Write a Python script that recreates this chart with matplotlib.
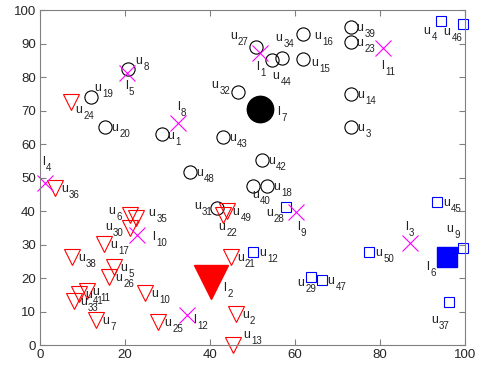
import matplotlib
matplotlib.use('Agg')
import matplotlib.pyplot as plt

plt.rcParams['font.family'] = ['Liberation Sans', 'DejaVu Sans']

# users served by l7 (black circles)
circ_ids = [8, 19, 20, 1, 27, 44, 34, 16, 15, 32, 43, 42, 48, 39, 23, 14, 3, 40, 18, 31]
circ_x = [20.8, 11.9, 15.2, 28.6, 50.8, 54.5, 56.9, 62.0, 62.0, 46.7,
          43.1, 52.2, 35.3, 73.1, 73.1, 73.3, 73.3, 50.2, 53.5, 41.7]
circ_y = [82.5, 74.2, 65.2, 63.0, 89.1, 85.1, 85.7, 92.9, 85.4, 75.7,
          62.2, 55.3, 51.8, 95.1, 90.6, 74.9, 65.2, 47.5, 47.5, 41.0]

# users served by l2 (red triangles)
tri_ids = [24, 36, 6, 35, 30, 17, 38, 5, 26, 10, 11, 41, 33, 7, 25, 49, 22, 21, 2, 13]
tri_x = [7.4, 3.5, 21.3, 22.5, 21.2, 15.1, 7.5, 17.5, 16.3, 24.7,
         11.0, 9.2, 8.0, 13.2, 27.8, 43.9, 43.0, 44.9, 46.1, 45.5]
tri_y = [72.5, 47.0, 39.0, 37.9, 34.9, 30.1, 26.3, 23.4, 20.4, 15.6,
         16.1, 15.2, 13.2, 7.5, 7.0, 40.1, 38.8, 26.2, 9.3, 0.0]

# users served by l6 (blue squares)
sq_ids = [4, 46, 28, 12, 29, 47, 45, 9, 50, 37]
sq_x = [94.3, 99.5, 57.9, 50.2, 63.9, 66.3, 93.5, 99.6, 77.5, 96.3]
sq_y = [96.9, 95.9, 41.1, 27.7, 20.2, 19.4, 42.8, 28.9, 27.9, 12.8]

# candidate locations (magenta crosses)
cross_ids = [1, 3, 4, 5, 8, 9, 10, 11, 12]
cross_x = [51.8, 87.1, 1.2, 20.4, 32.4, 60.2, 22.8, 80.8, 34.7]
cross_y = [87.3, 30.6, 48.3, 81.2, 66.3, 39.8, 32.9, 88.8, 9.0]

# chosen locations
l7_xy = (51.8, 70.4)
l2_xy = (40.3, 19.0)
l6_xy = (95.7, 26.4)

# label offsets in pixels (default is right of marker)
u_offsets = {8: (7, 5), 19: (4, 6), 24: (4, -11), 20: (7, -4), 1: (6, -5),
             27: (-26, 8), 34: (-6, 17), 44: (1, -19), 16: (11, -5), 15: (8, -7),
             32: (-27, 4), 4: (-17, -13), 46: (-19, -11), 6: (-22, 1), 35: (13, 2),
             30: (-25, -2), 40: (-1, -12), 31: (-23, -1), 22: (-4, -15),
             28: (-20, -9), 29: (-14, -9), 13: (10, 7), 9: (-17, 16), 37: (-18, -21)}
l_offsets = {1: (-4, -17), 3: (-5, 13), 4: (-3, 18), 5: (-2, -16), 8: (-1, 13),
             9: (1, -18), 10: (15, -5), 11: (-2, -21), 12: (6, -8),
             7: (17, -6), 2: (12, -9), 6: (-20, -13)}

fig = plt.figure(figsize=(4.79, 3.66), dpi=100)
ax = fig.add_axes([0.0835, 0.057, 0.887, 0.915])

ax.plot(circ_x, circ_y, 'o', color='k', mfc='none', ms=9.5, mew=0.8, clip_on=False)
ax.plot(tri_x, tri_y, 'v', color='#ff0000', mfc='none', ms=11, mew=0.8, clip_on=False)
ax.plot(sq_x, sq_y, 's', color='#0000ff', mfc='none', ms=7.5, mew=0.8, clip_on=False)
ax.plot(cross_x, cross_y, 'x', color='#ff00ff', ms=12, mew=0.8, clip_on=False)
ax.plot(*l7_xy, 'o', color='k', ms=19, clip_on=False)
ax.plot(*l2_xy, 'v', color='#ff0000', ms=24, clip_on=False)
ax.plot(*l6_xy, 's', color='#0000ff', ms=14, clip_on=False)

letter_w = {'u': 8, 'l': 4}


def label(name, num, x, y, off):
    # letter, then a large, low subscript like the TeX one
    ax.annotate(name, (x, y), xytext=off, textcoords='offset pixels',
                ha='left', va='baseline', fontsize=9, color='#222222',
                annotation_clip=False)
    ax.annotate(str(num), (x, y), xytext=(off[0] + letter_w[name], off[1] - 6),
                textcoords='offset pixels', ha='left', va='baseline',
                fontsize=7, color='#222222', annotation_clip=False)


for ids, xs, ys in [(circ_ids, circ_x, circ_y), (tri_ids, tri_x, tri_y), (sq_ids, sq_x, sq_y)]:
    for i, x, y in zip(ids, xs, ys):
        label('u', i, x, y, u_offsets.get(i, (6, -4)))

for i, x, y in zip(cross_ids, cross_x, cross_y):
    label('l', i, x, y, l_offsets[i])
label('l', 7, *l7_xy, l_offsets[7])
label('l', 2, *l2_xy, l_offsets[2])
label('l', 6, *l6_xy, l_offsets[6])

ax.set_xlim(0, 100)
ax.set_ylim(0, 100)
ax.set_xticks(range(0, 101, 20))
ax.set_yticks(range(0, 101, 10))
ax.tick_params(direction='in', top=True, right=True, length=4, width=0.8,
               labelsize=9.5, colors='#808080', labelcolor='#262626', pad=3)
for s in ax.spines.values():
    s.set_color('#808080')
    s.set_linewidth(0.8)

plt.savefig('out.png', dpi=100)
